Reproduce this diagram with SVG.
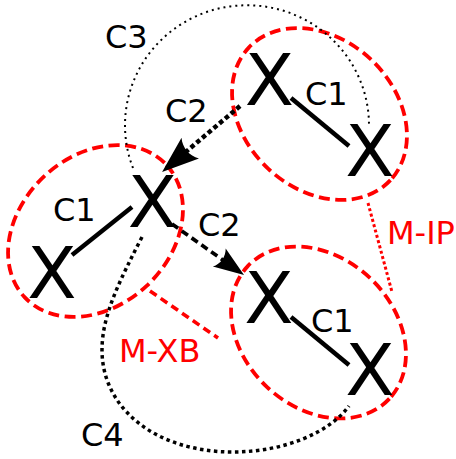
<svg xmlns="http://www.w3.org/2000/svg" width="456" height="459" viewBox="0 0 456 459">
<style>
text{font-family:"DejaVu Sans","Liberation Sans",sans-serif;}
.atom{font-size:72px;fill:#000;text-anchor:middle;}
.lbl{font-size:32px;fill:#000;}
.red{fill:#ff0000;}
.grp{fill:none;stroke:#ff0000;stroke-width:3.8;stroke-dasharray:11,5.5;}
.bond{fill:none;stroke:#000;stroke-width:4.5;}
.c2a{fill:none;stroke:#000;stroke-width:4.5;stroke-dasharray:4.5,3;marker-end:url(#ah);}
.c2b{fill:none;stroke:#000;stroke-width:3.7;stroke-dasharray:7.5,4.5;marker-end:url(#ah);}
.c3{fill:none;stroke:#000;stroke-width:2;stroke-dasharray:2,4;}
.c4{fill:none;stroke:#000;stroke-width:3.5;stroke-dasharray:3.5,3.5;}
.mip{fill:none;stroke:#ff0000;stroke-width:3;stroke-dasharray:3,2.5;}
.mxb{fill:none;stroke:#ff0000;stroke-width:3.6;stroke-dasharray:8,5;}
</style>
<defs>
<marker id="ah" markerUnits="strokeWidth" markerWidth="12" markerHeight="8" refX="1.5" refY="0" orient="auto" viewBox="-1 -4 11 8" overflow="visible">
<path d="M0,-3 L8.2,0 L0,3 C1.3,1.2 1.3,-1.2 0,-3 Z" fill="#000"/>
</marker>
</defs>
<g id="cluster-top">
<ellipse class="grp" cx="319.5" cy="114" rx="97" ry="75" transform="rotate(43 319.5 114)"/>
</g>
<g id="cluster-left">
<ellipse class="grp" cx="95.5" cy="231" rx="97" ry="75" transform="rotate(-43 95.5 231)"/>
</g>
<g id="cluster-bottom">
<ellipse class="grp" cx="318.5" cy="332.5" rx="97" ry="75" transform="rotate(43 318.5 332.5)"/>
</g>
<g id="connectors">
<line class="bond" x1="291" y1="98" x2="349" y2="146"/>
<line class="bond" x1="72" y1="255" x2="132" y2="207"/>
<line class="bond" x1="291" y1="317" x2="349" y2="365"/>
<path class="c2a" d="M240,106 L185.1,152.5"/>
<path class="c2b" d="M172,224 L223.8,260.7"/>
<path class="c3" d="M133,168 A122,120 0 1 1 369,125"/>
<path class="c4" d="M142,237 C120,280 102,315 102,350 C102,408 155,452 233,452 C285,452 330,432 349,406"/>
<path class="mip" d="M368,203 L392,292"/>
<path class="mxb" d="M150,291 L218,338"/>
</g>
<g id="atom-top-a"><text class="atom" x="269.5" y="105">X</text></g>
<g id="atom-top-b"><text class="atom" x="370" y="176">X</text></g>
<g id="atom-left-a"><text class="atom" x="152.5" y="227">X</text></g>
<g id="atom-left-b"><text class="atom" x="52" y="298">X</text></g>
<g id="atom-bottom-a"><text class="atom" x="269" y="323">X</text></g>
<g id="atom-bottom-b"><text class="atom" x="370" y="395">X</text></g>
<g id="labels">
<text class="lbl" x="305" y="105">C1</text>
<text class="lbl" x="53" y="221">C1</text>
<text class="lbl" x="311" y="332">C1</text>
<text class="lbl" x="165" y="122">C2</text>
<text class="lbl" x="198" y="236">C2</text>
<text class="lbl" x="105" y="48">C3</text>
<text class="lbl" x="81" y="446">C4</text>
<text class="lbl red" x="387" y="244">M-IP</text>
<text class="lbl red" x="119" y="362">M-XB</text>
</g>
</svg>
